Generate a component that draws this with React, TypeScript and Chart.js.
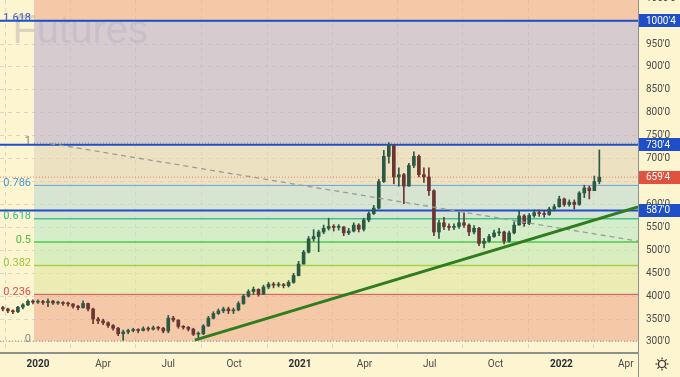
import React, { useEffect, useRef } from 'react';
import { Chart, registerables } from 'chart.js';

Chart.register(...registerables);

const FONT = "Roboto, 'Liberation Sans', 'DejaVu Sans', sans-serif";
const BG = '#fdf4d0';

// ---- axes ----
const X_MIN = -53; // days from 2020-01-01
const X_MAX = 838;
const Y_MIN = 276;
const Y_MAX = 1046;

const xTickDays = [0, 91, 182, 274, 366, 456, 547, 639, 731, 821];
const xTickLabels = ['2020', 'Apr', 'Jul', 'Oct', '2021', 'Apr', 'Jul', 'Oct', '2022', 'Apr'];
const xTickIsYear = [true, false, false, false, true, false, false, false, true, false];
const yTickValues = [300, 350, 400, 450, 500, 550, 600, 650, 700, 750, 800, 850, 900, 950, 1000, 1050];

// ---- weekly candles (price in cents) ----
const candleStartDay = -49;
const candleStepDays = 7;
const candleFirstOpen = 375;
const candleClose = [
  372, 368, 366, 376, 381, 389, 387, 388, 386, 389,
  385, 386, 384, 383, 378, 375, 384, 372, 350, 346,
  342, 336, 330, 318, 322, 325, 326, 325, 329, 328,
  331, 330, 324, 352, 348, 334, 332, 328, 317, 318,
  335, 352, 362, 368, 372, 368, 370, 384, 400, 410,
  415, 404, 420, 426, 424, 425, 423, 430, 445, 470,
  496, 525, 530, 540, 548, 552, 550, 551, 538, 542,
  555, 546, 566, 580, 592, 650, 705, 728, 660, 665,
  640, 685, 705, 665, 660, 630, 540, 560, 552, 550,
  552, 560, 555, 540, 548, 515, 520, 530, 538, 540,
  520, 538, 555, 575, 558, 576, 582, 580, 578, 590,
  595, 612, 600, 605, 600, 625, 636, 630, 650, 659.5,
];
const candleHigh = [
  378, 374, 370, 378, 384, 392, 392, 392, 391, 394,
  391, 389, 388, 387, 384, 380, 390, 385, 374, 354,
  350, 344, 338, 332, 326, 328, 330, 329, 333, 333,
  335, 334, 332, 358, 356, 348, 336, 334, 330, 322,
  338, 356, 366, 372, 376, 376, 374, 388, 404, 414,
  420, 416, 424, 430, 430, 430, 428, 434, 450, 476,
  500, 530, 545, 544, 555, 570, 556, 556, 552, 548,
  560, 558, 570, 584, 598, 655, 718, 735, 730, 680,
  668, 690, 715, 708, 680, 680, 632, 566, 572, 558,
  558, 584, 582, 558, 554, 550, 526, 535, 544, 548,
  542, 542, 562, 586, 578, 580, 588, 588, 586, 594,
  600, 618, 614, 610, 610, 628, 642, 640, 662, 719,
];
const candleLow = [
  368, 364, 362, 364, 372, 379, 383, 384, 382, 377,
  382, 382, 380, 378, 374, 370, 374, 368, 340, 340,
  338, 332, 326, 314, 304, 318, 322, 320, 324, 324,
  326, 326, 320, 320, 344, 330, 328, 324, 314, 306,
  316, 334, 350, 360, 364, 362, 362, 368, 382, 398,
  404, 400, 404, 416, 418, 420, 418, 420, 428, 444,
  470, 494, 520, 497, 536, 544, 542, 544, 532, 534,
  540, 540, 542, 562, 578, 590, 648, 690, 645, 640,
  602, 640, 680, 660, 648, 620, 532, 526, 545, 544,
  545, 548, 550, 532, 536, 510, 505, 518, 528, 532,
  514, 518, 536, 555, 552, 556, 572, 574, 572, 576,
  586, 594, 596, 596, 590, 598, 615, 612, 630, 645,
];

// ---- Fibonacci retracement ----
const fibStartDay = -5.5;
const fibLow = 302;
const fibHigh = 734;
const fibRatios = [0, 0.236, 0.382, 0.5, 0.618, 0.786, 1, 1.618];
const fibLabels = ['0', '0.236', '0.382', '0.5', '0.618', '0.786', '1', '1.618'];
const fibLineColors = ['#8f8f8f', '#d9534f', '#a6d04c', '#4cc84c', '#3fc48f', '#6aa6d6', '#8f8f8f', '#2f5fd0'];
const fibLabelColors = ['#8a8a8a', '#d9504c', '#97c83a', '#45c045', '#35b98a', '#4c96d0', '#7d7d7d', '#3558c6'];
const fibLineWidths = [1, 1, 1.5, 1.5, 1.5, 1, 1, 1];
const fibLineDashed = [true, false, false, false, false, false, true, false];
const fibLineStartDays = [X_MIN, fibStartDay, fibStartDay, fibStartDay, fibStartDay, fibStartDay, fibStartDay, fibStartDay];
const fibBandColors = [
  'rgba(240,171,141,0.6)',
  'rgba(223,229,161,0.6)',
  'rgba(194,234,178,0.6)',
  'rgba(186,231,195,0.6)',
  'rgba(191,217,211,0.6)',
  'rgba(225,211,181,0.6)',
  'rgba(188,177,208,0.6)',
  'rgba(240,171,141,0.6)',
];

// ---- horizontal lines / markers ----
const hLinePrices = [1000.5, 730.5, 587];
const lastPrice = 659.5;
const markerPrices = [1000.5, 730.5, 659.5, 587];
const markerLabels = ["1000'4", "730'4", "659'4", "587'0"];
const markerColors = ['#1f4fc8', '#1f4fc8', '#e0513e', '#1f4fc8'];

// ---- trend lines ----
const grayTrendDays = [17, 838];
const grayTrendPrices = [733, 520];
const greenTrendDays = [219, 838];
const greenTrendPrices = [304, 594.5];

const watermarkText = 'Corn Futures';

const levelPrices = fibRatios.map((r) => fibLow + r * (fibHigh - fibLow));

function buildDatasets() {
  const ds: any[] = [];
  levelPrices.forEach((p, k) => {
    ds.push({
      type: 'line',
      data: [{ x: fibStartDay, y: p }, { x: X_MAX, y: p }],
      borderWidth: 0,
      borderColor: 'transparent',
      pointRadius: 0,
      fill: k === 0 ? false : k - 1,
      backgroundColor: k === 0 ? 'transparent' : fibBandColors[k - 1],
      order: 100,
    });
  });
  ds.push({
    type: 'line',
    data: [{ x: fibStartDay, y: levelPrices[7] }, { x: X_MAX, y: levelPrices[7] }],
    borderWidth: 0,
    borderColor: 'transparent',
    pointRadius: 0,
    fill: 'end',
    backgroundColor: fibBandColors[7],
    order: 100,
  });
  levelPrices.forEach((p, k) => {
    ds.push({
      type: 'line',
      data: [{ x: fibLineStartDays[k], y: p }, { x: X_MAX, y: p }],
      borderColor: fibLineColors[k],
      borderWidth: fibLineWidths[k],
      borderDash: fibLineDashed[k] ? [1, 2] : [],
      pointRadius: 0,
      fill: false,
      order: 90,
    });
  });
  hLinePrices.forEach((p) => {
    ds.push({
      type: 'line',
      data: [{ x: X_MIN, y: p }, { x: X_MAX, y: p }],
      borderColor: '#1f4fc8',
      borderWidth: 2,
      pointRadius: 0,
      fill: false,
      order: 80,
    });
  });
  ds.push({
    type: 'line',
    data: [{ x: X_MIN, y: lastPrice }, { x: X_MAX, y: lastPrice }],
    borderColor: '#ee7f5f',
    borderWidth: 1,
    borderDash: [1, 2],
    pointRadius: 0,
    fill: false,
    order: 80,
  });
  const opens = candleClose.map((c, i) => (i === 0 ? candleFirstOpen : candleClose[i - 1]));
  const colors = candleClose.map((c, i) => (c >= opens[i] ? '#2a5a44' : '#6b3531'));
  const days = candleClose.map((_, i) => candleStartDay + i * candleStepDays);
  ds.push({
    type: 'bar',
    data: days.map((d, i) => ({ x: d, y: [candleLow[i], candleHigh[i]] })),
    backgroundColor: colors,
    barThickness: 1,
    grouped: false,
    order: 50,
  });
  ds.push({
    type: 'bar',
    data: days.map((d, i) => ({ x: d, y: [opens[i], candleClose[i]] })),
    backgroundColor: colors,
    barThickness: 3,
    minBarLength: 1,
    grouped: false,
    order: 49,
  });
  ds.push({
    type: 'line',
    data: grayTrendDays.map((d, i) => ({ x: d, y: grayTrendPrices[i] })),
    borderColor: '#9c9c9c',
    borderWidth: 1.3,
    borderDash: [5, 4],
    pointRadius: 0,
    fill: false,
    order: 20,
  });
  ds.push({
    type: 'line',
    data: greenTrendDays.map((d, i) => ({ x: d, y: greenTrendPrices[i] })),
    borderColor: '#2f7d1e',
    borderWidth: 3,
    pointRadius: 0,
    fill: false,
    order: 10,
  });
  return ds;
}

const overlayPlugin = {
  id: 'overlay',
  beforeDatasetsDraw(chart: any) {
    const { ctx } = chart;
    ctx.save();
    ctx.font = "40px 'Liberation Sans', sans-serif";
    ctx.fillStyle = 'rgba(110,110,130,0.24)';
    ctx.textAlign = 'right';
    ctx.textBaseline = 'alphabetic';
    ctx.fillText(watermarkText, 148, 43);
    ctx.restore();
  },
  afterDraw(chart: any) {
    const { ctx, chartArea } = chart;
    const y = chart.scales.y;
    ctx.save();
    ctx.font = `11px ${FONT}`;
    ctx.textAlign = 'right';
    ctx.textBaseline = 'middle';
    levelPrices.forEach((p, k) => {
      ctx.fillStyle = fibLabelColors[k];
      ctx.fillText(fibLabels[k], 31, y.getPixelForValue(p) - 2);
    });
    ctx.font = `10px ${FONT}`;
    ctx.textAlign = 'left';
    markerPrices.forEach((p, k) => {
      const py = y.getPixelForValue(p);
      ctx.fillStyle = markerColors[k];
      ctx.fillRect(chartArea.right + 1, Math.round(py - 6.5), 42, 13);
      ctx.fillStyle = '#ffffff';
      ctx.fillText(markerLabels[k], chartArea.right + 8, py + 0.5);
    });
    ctx.strokeStyle = '#8d918d';
    ctx.lineWidth = 1;
    ctx.beginPath();
    ctx.moveTo(chartArea.right + 0.5, chartArea.bottom);
    ctx.lineTo(chartArea.right + 0.5, chart.height);
    ctx.stroke();
    const cx = 662;
    const cy = 364;
    ctx.strokeStyle = '#333';
    ctx.lineWidth = 1.2;
    ctx.beginPath();
    ctx.arc(cx, cy, 3.5, 0, Math.PI * 2);
    ctx.stroke();
    for (let a = 0; a < 8; a++) {
      const ang = (a * Math.PI) / 4;
      ctx.beginPath();
      ctx.moveTo(cx + Math.cos(ang) * 4.5, cy + Math.sin(ang) * 4.5);
      ctx.lineTo(cx + Math.cos(ang) * 6.5, cy + Math.sin(ang) * 6.5);
      ctx.stroke();
    }
    ctx.restore();
  },
};

export default function App() {
  const ref = useRef<HTMLCanvasElement | null>(null);
  useEffect(() => {
    if (!ref.current) return;
    const gridColor = 'rgba(150,160,210,0.35)';
    const chart = new Chart(ref.current, {
      type: 'line',
      data: { datasets: buildDatasets() },
      options: {
        animation: false,
        responsive: false,
        maintainAspectRatio: false,
        devicePixelRatio: 1,
        layout: { padding: 0 },
        plugins: {
          legend: { display: false },
          tooltip: { enabled: false },
        },
        elements: { point: { radius: 0 }, line: { tension: 0 } },
        scales: {
          x: {
            type: 'linear',
            min: X_MIN,
            max: X_MAX,
            offset: false,
            afterBuildTicks: (axis: any) => {
              axis.ticks = xTickDays.map((v) => ({ value: v }));
            },
            afterFit: (axis: any) => {
              axis.height = 24;
              axis.paddingLeft = 0;
              axis.paddingRight = 0;
              axis.paddingTop = 0;
              axis.paddingBottom = 0;
            },
            ticks: {
              autoSkip: false,
              maxRotation: 0,
              padding: 5,
              callback: (_v: any, i: number) => xTickLabels[i],
              color: (c: any) => (xTickIsYear[c.index] ? '#2a2e39' : '#4a4a4a'),
              font: (c: any) => ({ family: FONT, size: 10, weight: xTickIsYear[c.index] ? 'bold' : 'normal' }),
            },
            grid: { color: gridColor, drawTicks: false, lineWidth: 1 },
            border: { display: true, color: '#8d918d', width: 2, dash: [4, 4] },
          },
          y: {
            type: 'linear',
            position: 'right',
            min: Y_MIN,
            max: Y_MAX,
            afterBuildTicks: (axis: any) => {
              axis.ticks = yTickValues.map((v) => ({ value: v }));
            },
            afterFit: (axis: any) => {
              axis.width = 42;
              axis.paddingTop = 0;
              axis.paddingBottom = 0;
              axis.paddingLeft = 0;
              axis.paddingRight = 0;
            },
            ticks: {
              padding: 8,
              color: '#4a4a4a',
              font: { family: FONT, size: 10 },
              callback: (v: any) => `${v}'0`,
            },
            grid: { color: gridColor, drawTicks: false, lineWidth: 1 },
            border: { display: true, color: '#8d918d', width: 1, dash: [4, 4] },
          },
        },
      },
      plugins: [overlayPlugin],
    } as any);
    return () => chart.destroy();
  }, []);
  return (
    <div style={{ position: 'fixed', left: 0, top: 0, width: 680, height: 377, background: BG }}>
      <canvas ref={ref} width={680} height={377} style={{ display: 'block', width: 680, height: 377 }} />
    </div>
  );
}
